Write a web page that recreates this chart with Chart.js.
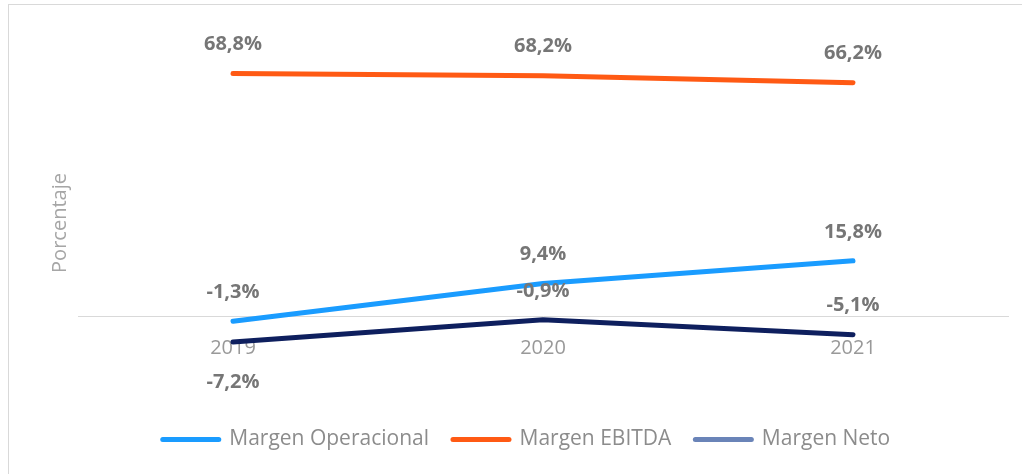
<!DOCTYPE html>
<html>
<head>
<meta charset="utf-8">
<script src="https://cdn.jsdelivr.net/npm/chart.js@4.4.1/dist/chart.umd.min.js"></script>
<style>
  html, body { margin: 0; padding: 0; background: #fff; }
  #wrap { position: relative; width: 1022px; height: 474px; }
  #frame { position: absolute; left: 8px; top: 4px; width: 1030px; height: 490px; border: 1px solid #d9d9d9; box-sizing: border-box; }
  canvas { position: absolute; left: 0; top: 0; }
</style>
</head>
<body>
<div id="wrap">
  <div id="frame"></div>
  <canvas id="chart" width="1022" height="474"></canvas>
</div>
<script>
// ---------------- Data ----------------
const years = ['2019', '2020', '2021'];
const margenOperacional = [-1.3, 9.4, 15.8];
const margenEbitda = [68.8, 68.2, 66.2];
const margenNeto = [-7.2, -0.9, -5.1];

const lineColors = ['#1a9cff', '#ff5a14', '#0e1f5e'];
const legendColors = ['#1a9cff', '#ff5a14', '#6a84b8'];
const labelBelow = [[false, false, false], [false, false, false], [true, false, false]];

function fmt(v) {
  return v.toFixed(1).replace('.', ',') + '%';
}

// draws the value labels above / below each point
const valueLabels = {
  id: 'valueLabels',
  afterDatasetsDraw(chart) {
    const ctx = chart.ctx;
    ctx.save();
    ctx.font = 'bold 20px "Open Sans"';
    ctx.fillStyle = '#767676';
    ctx.textAlign = 'center';
    ctx.textBaseline = 'middle';
    chart.data.datasets.forEach((ds, i) => {
      chart.getDatasetMeta(i).data.forEach((pt, j) => {
        const below = labelBelow[i][j];
        const y = below ? pt.y + 40 : pt.y - 29;
        ctx.fillText(fmt(ds.data[j]), pt.x, y);
      });
    });
    ctx.restore();
  }
};

const ds = (label, data, idx) => ({
  label,
  data,
  borderColor: lineColors[idx],
  backgroundColor: legendColors[idx],
  borderWidth: 5,
  borderCapStyle: 'round',
  pointRadius: 0,
  tension: 0,
  fill: false
});

new Chart(document.getElementById('chart'), {
  type: 'line',
  data: {
    labels: years,
    datasets: [
      ds('Margen Operacional', margenOperacional, 0),
      ds('Margen EBITDA', margenEbitda, 1),
      ds('Margen Neto', margenNeto, 2)
    ]
  },
  options: {
    responsive: false,
    animation: false,
    layout: { padding: { top: 41, right: 14, bottom: 14, left: 45 } },
    plugins: {
      tooltip: { enabled: false },
      legend: {
        position: 'bottom',
        labels: {
          usePointStyle: true,
          pointStyleWidth: 56,
          boxHeight: 5,
          padding: 24,
          color: '#8c8c8c',
          font: { family: 'Open Sans', size: 21 },
          generateLabels(chart) {
            return chart.data.datasets.map((d, i) => ({
              text: d.label,
              pointStyle: 'line',
              fillStyle: legendColors[i],
              strokeStyle: legendColors[i],
              lineWidth: 5,
              lineCap: 'round',
              fontColor: '#8c8c8c',
              datasetIndex: i
            }));
          }
        }
      }
    },
    scales: {
      x: {
        type: 'category',
        position: { y: 0 },
        offset: true,
        grid: { display: false, drawTicks: false },
        border: { display: true, color: '#d9d9d9', width: 1 },
        ticks: { color: '#999999', font: { family: 'Open Sans', size: 20 }, padding: 20 }
      },
      y: {
        min: -25,
        max: 78,
        afterFit(scale) { scale.width = 33; },
        grid: { display: false },
        border: { display: false },
        ticks: { display: false },
        title: {
          display: true,
          text: 'Porcentaje',
          color: '#a6a6a6',
          font: { family: 'Open Sans', size: 20 },
          padding: { top: 3, bottom: 0 }
        }
      }
    }
  },
  plugins: [valueLabels]
});
</script>
</body>
</html>
